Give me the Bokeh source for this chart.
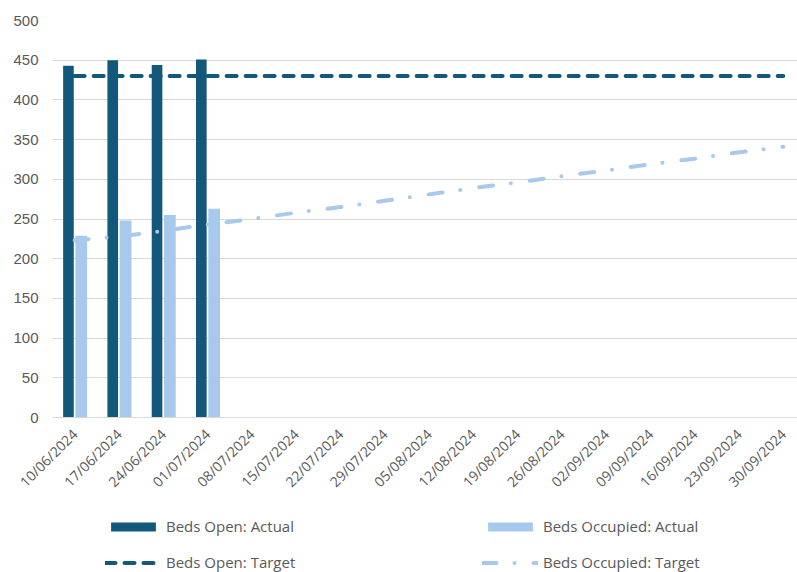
import math
from bokeh.plotting import figure
from bokeh.layouts import column
from bokeh.models import Range1d, FixedTicker, Legend, LegendItem, ColumnDataSource
from bokeh.transform import dodge
from bokeh.embed import file_html
from bokeh.resources import INLINE

weeks = ["10/06/2024", "17/06/2024", "24/06/2024", "01/07/2024", "08/07/2024",
         "15/07/2024", "22/07/2024", "29/07/2024", "05/08/2024", "12/08/2024",
         "19/08/2024", "26/08/2024", "02/09/2024", "09/09/2024", "16/09/2024",
         "23/09/2024", "30/09/2024"]
beds_open_actual = [443, 450, 444, 451]
beds_occupied_actual = [229, 248, 255, 263]
beds_open_target = [430] * 17
beds_occupied_target = [223, 228, 235, 243, 250, 258, 265, 273, 281, 289,
                        296, 304, 311, 319, 326, 334, 341]
y_ticks = [0, 50, 100, 150, 200, 250, 300, 350, 400, 450, 500]
series_names = ["Beds Open: Actual", "Beds Occupied: Actual",
                "Beds Open: Target", "Beds Occupied: Target"]

DARK = "#13587a"
LIGHT = "#a6c9ec"
GREY = "#595959"
GRID = "#d9d9d9"

idx = list(range(len(weeks)))
n_act = len(beds_open_actual)
src_act = ColumnDataSource(dict(x=idx[:n_act], open=beds_open_actual, occ=beds_occupied_actual))
src_tgt = ColumnDataSource(dict(x=idx, open=beds_open_target, occ=beds_occupied_target))

bar_open = dict(fill_color=DARK, line_color=None)
bar_occ = dict(fill_color=LIGHT, line_color=None)
ln_open = dict(line_color=DARK, line_width=4, line_dash="10 9", line_cap="round")
ln_occ = dict(line_color=LIGHT, line_width=4, line_dash="14 18 0 19", line_cap="round")

p = figure(width=797, height=500, output_backend="svg", toolbar_location=None,
           x_range=Range1d(-0.5, 16.32), y_range=Range1d(0, 500),
           min_border_left=52, min_border_right=0, min_border_top=20, min_border_bottom=83)
p.outline_line_color = None
p.background_fill_color = "white"
p.border_fill_color = "white"

p.vbar(x=dodge("x", -0.14, range=p.x_range), top="open", width=0.24, bottom=0,
       source=src_act, **bar_open)
p.vbar(x=dodge("x", 0.15, range=p.x_range), top="occ", width=0.264, bottom=0,
       source=src_act, **bar_occ)
p.line(x="x", y="open", source=src_tgt, **ln_open)
p.line(x="x", y="occ", source=src_tgt, **ln_occ)

# axes
p.xaxis.ticker = FixedTicker(ticks=idx)
p.xaxis.major_label_overrides = {i: w for i, w in zip(idx, weeks)}
p.xaxis.major_label_orientation = math.pi / 4
p.xaxis.major_label_text_font = "Open Sans"
p.xaxis.major_label_text_font_size = "14px"
p.xaxis.major_label_text_color = GREY
p.xaxis.major_tick_line_color = None
p.xaxis.minor_tick_line_color = None
p.xaxis.axis_line_color = GRID
p.xaxis.major_label_standoff = 8

p.yaxis.ticker = FixedTicker(ticks=y_ticks)
p.yaxis.major_label_text_font = "Liberation Sans"
p.yaxis.major_label_text_font_size = "15px"
p.yaxis.major_label_text_color = GREY
p.yaxis.major_tick_line_color = None
p.yaxis.minor_tick_line_color = None
p.yaxis.axis_line_color = None
p.yaxis.major_tick_out = 0
p.yaxis.major_label_standoff = 14

p.xgrid.grid_line_color = None
p.ygrid.grid_line_color = GRID
p.ygrid.ticker = FixedTicker(ticks=y_ticks)

# legend strip: key renderers sit outside the strip's visible range,
# so only their legend swatches are drawn
q = figure(width=797, height=72, output_backend="svg", toolbar_location=None,
           x_range=Range1d(0, 1), y_range=Range1d(0, 1),
           min_border=0, x_axis_type=None, y_axis_type=None)
q.outline_line_color = None
q.xgrid.grid_line_color = None
q.ygrid.grid_line_color = None
q.border_fill_color = "white"
k1 = q.vbar(x=[-5], top=[-5], bottom=-6, width=0.1, **bar_open)
k2 = q.vbar(x=[-5], top=[-5], bottom=-6, width=0.1, **bar_occ)
k3 = q.line(x=[-6, -5], y=[-5, -5], **ln_open)
k4 = q.line(x=[-6, -5], y=[-5, -5], **ln_occ)

legend = Legend(items=[LegendItem(label=n, renderers=[k]) for n, k in zip(series_names, [k1, k2, k3, k4])],
                orientation="horizontal", ncols=2, location=(53, 0),
                padding=0, margin=0, border_line_color=None, background_fill_alpha=0,
                glyph_width=56, glyph_height=11, label_standoff=5, label_width=300,
                label_height=18, spacing=16,
                label_text_font="Open Sans", label_text_font_size="15px", label_text_color=GREY)
q.add_layout(legend, "center")

layout = column(p, q, spacing=0)
open("out.html", "w").write(file_html(layout, INLINE))
